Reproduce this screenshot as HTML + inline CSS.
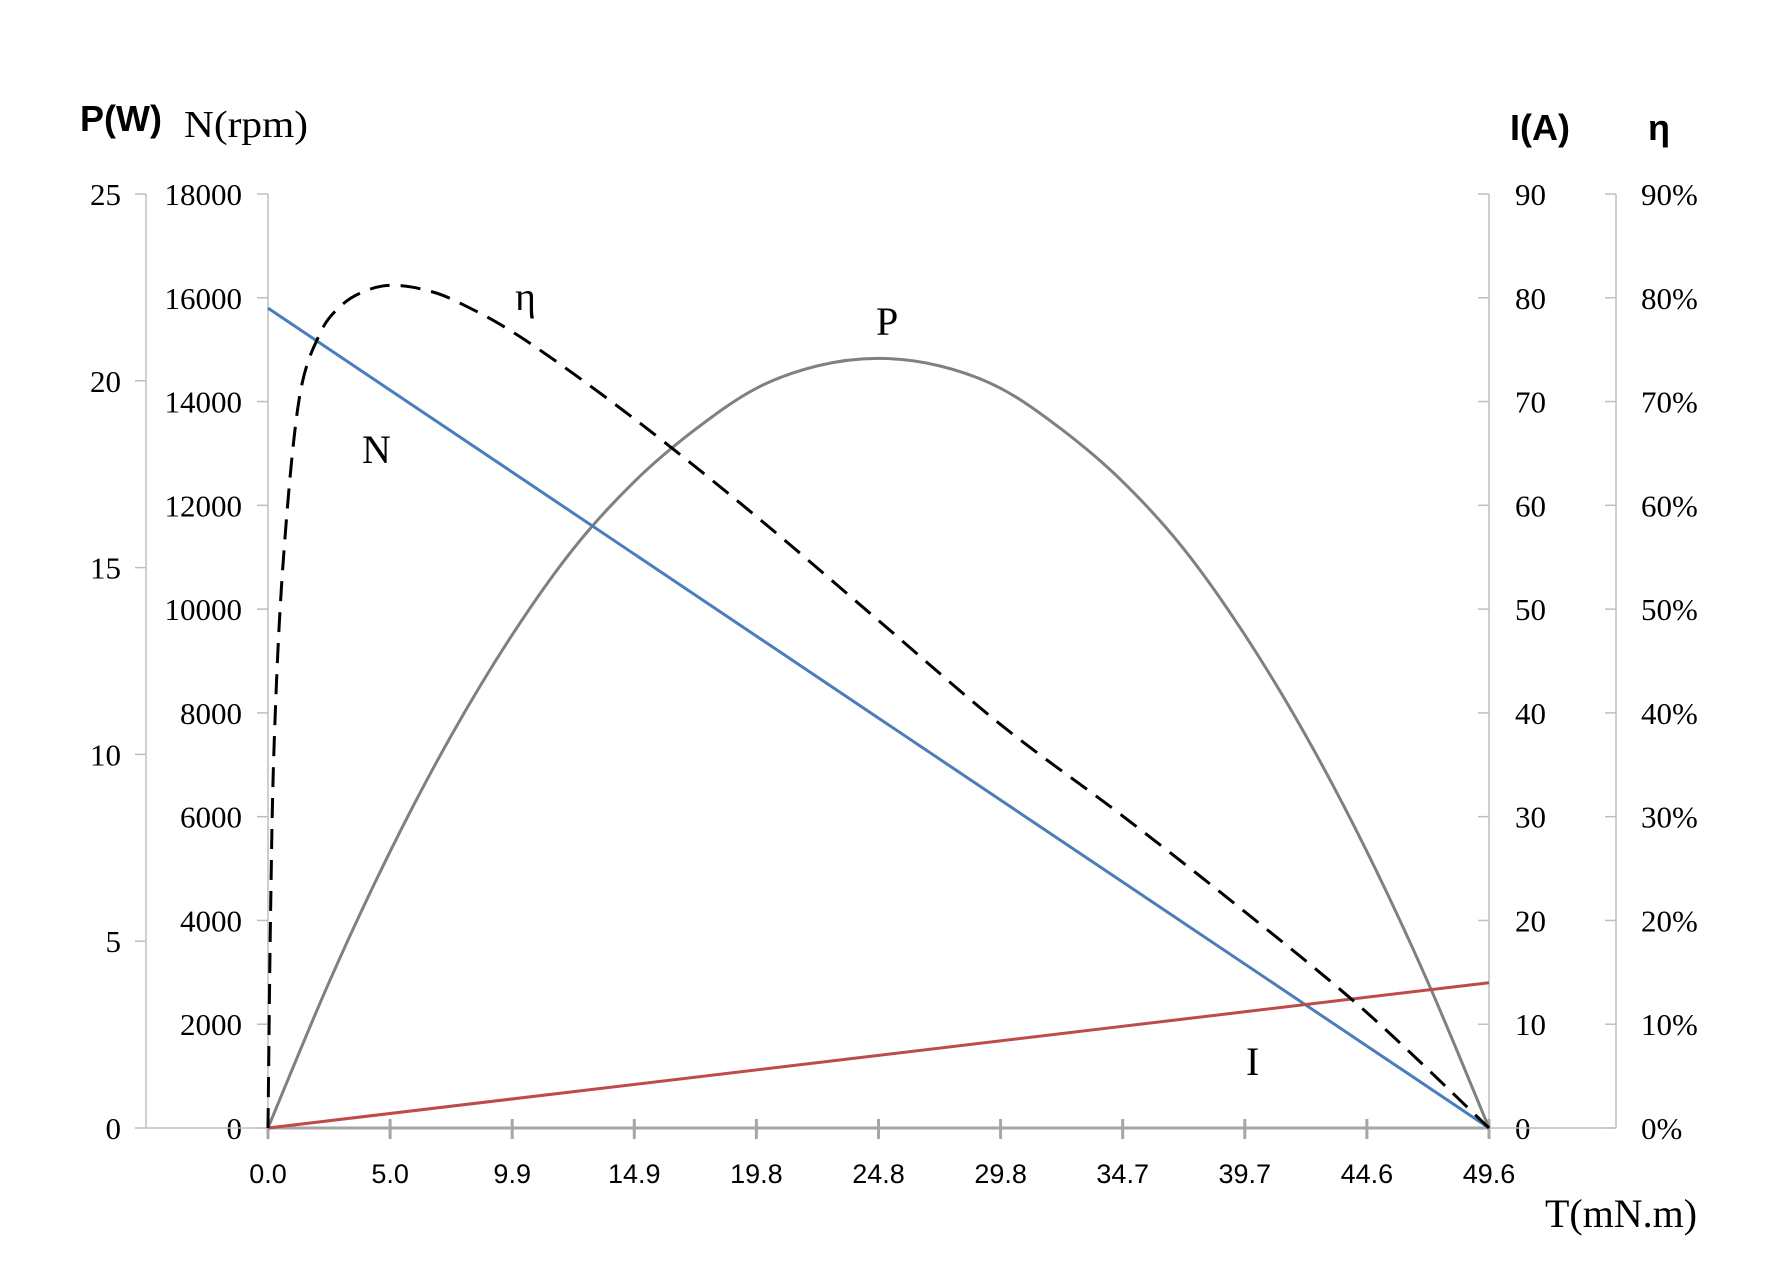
<!DOCTYPE html>
<html><head><meta charset="utf-8"><style>
html,body{margin:0;padding:0;background:#fff;}
svg{display:block;}
.ser{font-family:"Liberation Serif","Noto Serif CJK SC",serif;}
.san{font-family:"Liberation Sans","Noto Sans CJK SC",sans-serif;}
</style></head><body>
<svg id="chart" width="1781" height="1280" viewBox="0 0 1781 1280" xmlns="http://www.w3.org/2000/svg">
<g id="axes"></g>
<g id="series"></g>
<g id="labels">
<text x="80" y="131" class="san" font-size="36" font-weight="bold">P(W)</text>
<text x="184" y="137" class="ser" font-size="38" textLength="124" lengthAdjust="spacingAndGlyphs">N(rpm)</text>
<text x="1510" y="140" class="san" font-size="36" font-weight="bold">I(A)</text>
<text x="1648" y="140" class="san" font-size="36" font-weight="bold">η</text>
<text x="1545" y="1227" class="ser" font-size="40" textLength="152" lengthAdjust="spacingAndGlyphs">T(mN.m)</text>
<text x="362" y="463" class="ser" font-size="40">N</text>
<text x="515" y="310" class="ser" font-size="40">η</text>
<text x="876" y="335" class="ser" font-size="40">P</text>
<text x="1246" y="1075" class="ser" font-size="40">I</text>
</g>
</svg>
<script>
const xTicks = ["0.0","5.0","9.9","14.9","19.8","24.8","29.8","34.7","39.7","44.6","49.6"];
const pTicks = [0,5,10,15,20,25];
const nTicks = [0,2000,4000,6000,8000,10000,12000,14000,16000,18000];
const iTicks = [0,10,20,30,40,50,60,70,80,90];
const etaTicks = [0,10,20,30,40,50,60,70,80,90];
const torque = [0,2.48,4.96,7.44,9.92,12.4,14.88,17.36,19.84,22.32,24.8,27.28,29.76,32.24,34.72,37.2,39.68,42.16,44.64,47.12,49.6];
const powerW = [0,3.9,7.4,10.5,13.2,15.5,17.3,18.7,19.8,20.4,20.6,20.4,19.8,18.7,17.3,15.5,13.2,10.5,7.4,3.9,0];
const speedT = [0,49.6];
const speedRpm = [15800,0];
const currentT = [0,49.6];
const currentA = [0,14];
const etaT = [0,0.1,0.25,0.6,1.25,2.1,3.0,4.0,5.0,6.3,7.7,10.4,14.9,19.8,24.8,29.8,34.7,39.7,44.6,49.6];
const etaPct = [0,20,37,54,70,76.5,79.3,80.7,81.2,80.8,79.6,76,68.3,59,48.9,38.8,30.1,20.8,11.2,0];

const X0=268, X1=1489, Y0=1128, Y1=194;
const xs = t => X0 + (t/49.6)*(X1-X0);
const yP = v => Y0 - v/25*(Y0-Y1);
const yN = v => Y0 - v/18000*(Y0-Y1);
const yI = v => Y0 - v/90*(Y0-Y1);
const yE = v => Y0 - v/90*(Y0-Y1);
const NS="http://www.w3.org/2000/svg";
const axes=document.getElementById('axes'), ser=document.getElementById('series');
function mk(tag,attrs,parent){const e=document.createElementNS(NS,tag);for(const k in attrs)e.setAttribute(k,attrs[k]);parent.appendChild(e);return e;}

function vAxis(x, ticks, yf, lblX, anchor, fmt, name, tickDir){
  const g=mk('g',{},axes);
  
  
  mk('line',{x1:x,y1:yf(ticks[0]),x2:x,y2:yf(ticks[ticks.length-1]),stroke:'#bfbfbf','stroke-width':1.5},g);
  ticks.forEach(v=>{
    const y=yf(v);
    mk('line',{x1:x,y1:y,x2:x+tickDir*11,y2:y,stroke:'#bfbfbf','stroke-width':1.5},g);
    const t=mk('text',{x:lblX,y:y+11,'text-anchor':anchor,'font-size':31,class:'ser',fill:'#000'},g);
    
    
    t.textContent=fmt(v);
  });
}
vAxis(146,pTicks,yP,121,'end',v=>v,'p-axis',-1);
vAxis(268,nTicks,yN,242,'end',v=>v,'n-axis',-1);
vAxis(1489,iTicks,yI,1515,'start',v=>v,'i-axis',-1);
vAxis(1616,etaTicks,yE,1641,'start',v=>v+'%','eta-axis',-1);

const gx=mk('g',{},axes);


mk('line',{x1:146,y1:Y0,x2:1616,y2:Y0,stroke:'#bfbfbf','stroke-width':1.5},gx);
mk('line',{x1:X0,y1:Y0,x2:X1,y2:Y0,stroke:'#a6a6a6','stroke-width':3},gx);
xTicks.forEach((lab,i)=>{
  const x=xs(49.6*i/(xTicks.length-1));
  mk('line',{x1:x,y1:Y0-9,x2:x,y2:Y0+11,stroke:'#a6a6a6','stroke-width':3},gx);
  const t=mk('text',{x:x,y:Y0+55,'text-anchor':'middle','font-size':27,class:'san',fill:'#000'},gx);
  
  
  t.textContent=lab;
});

function smooth(pts){
  let d='M'+pts[0][0]+','+pts[0][1];
  for(let i=0;i<pts.length-1;i++){
    const p0=pts[Math.max(0,i-1)],p1=pts[i],p2=pts[i+1],p3=pts[Math.min(pts.length-1,i+2)];
    const c1=[p1[0]+(p2[0]-p0[0])/6,p1[1]+(p2[1]-p0[1])/6];
    const c2=[p2[0]-(p3[0]-p1[0])/6,p2[1]-(p3[1]-p1[1])/6];
    d+=' C'+c1+' '+c2+' '+p2;
  }
  return d;
}
const pPath=mk('path',{d:smooth(torque.map((t,i)=>[xs(t),yP(powerW[i])])),fill:'none',stroke:'#808080','stroke-width':3},ser);


const nPath=mk('path',{d:smooth(speedT.map((t,i)=>[xs(t),yN(speedRpm[i])])),fill:'none',stroke:'#4a7ebb','stroke-width':3},ser);


const iPath=mk('path',{d:smooth(currentT.map((t,i)=>[xs(t),yI(currentA[i])])),fill:'none',stroke:'#be4b48','stroke-width':3},ser);


const ePath=mk('path',{d:smooth(etaT.map((t,i)=>[xs(t),yE(etaPct[i])])),fill:'none',stroke:'#000','stroke-width':3,'stroke-dasharray':'20,11'},ser);


</script>
</body></html>
